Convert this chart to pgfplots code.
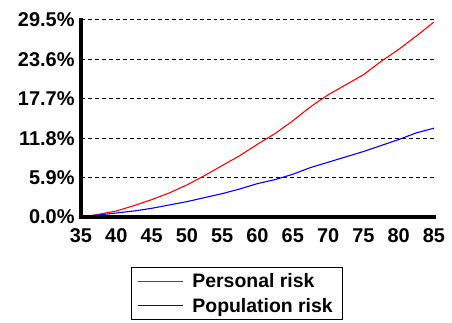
\documentclass[border=0pt]{standalone}
\usepackage{pgfplots}
\pgfplotsset{compat=1.18}
\usepackage{fontspec}
\setmainfont{Liberation Sans}
\begin{document}
\begin{tikzpicture}
\path[use as bounding box] (-81bp,-106bp) rectangle (371bp,217bp);
\begin{axis}[
  at={(0bp,0bp)}, anchor=origin,
  scale only axis, width=353bp, height=197bp,
  xmin=35, xmax=85, ymin=0, ymax=29.5,
  axis x line=bottom, axis y line=left,
  axis line style={draw=none},
  xtick={35,40,45,50,55,60,65,70,75,80,85},
  xticklabels={35,40,45,50,55,60,65,70,75,80,85},
  ytick={0,5.9,11.8,17.7,23.6,29.5},
  yticklabels={0.0\%,5.9\%,11.8\%,17.7\%,23.6\%,29.5\%},
  major tick length=0pt,
  ymajorgrids,
  grid style={black, line width=1pt, dash pattern=on 4pt off 3pt},
  tick label style={font=\bfseries\fontsize{20}{22}\selectfont, text=black},
  yticklabel style={xshift=-3bp},
  xticklabel style={yshift=-8bp},
  clip=false,
  legend style={at={(axis description cs:0.1416,-0.2538)}, anchor=north west,
    draw=black, line width=0.8pt, font=\bfseries\fontsize{19.5}{21}\selectfont,
    inner xsep=6bp, inner ysep=4bp, row sep=5bp,
    nodes={inner xsep=4bp}},
  legend cell align=left,
  legend image code/.code={\draw[#1, line width=1pt] (0bp,0bp) -- (45bp,0bp); \path (50bp,0bp);},
]
\addplot[red, line width=1.1pt] coordinates {
(35,0) (37.5,0.4) (40,0.9) (42.5,1.7) (45,2.6) (47.5,3.6) (50,4.8) (52.5,6.2)
(55,7.7) (57.5,9.2) (60,10.9) (62.5,12.5) (65,14.4) (67.5,16.5) (70,18.3)
(72.5,19.8) (75,21.3) (77.5,23.3) (80,25.1) (82.5,27.1) (85,29.2)};
\addlegendentry{Personal risk}
\addplot[blue, line width=1.1pt] coordinates {
(35,0) (37.5,0.3) (40,0.6) (42.5,0.9) (45,1.3) (47.5,1.8) (50,2.3) (52.5,2.9)
(55,3.5) (57.5,4.2) (60,5.0) (62.5,5.6) (65,6.4) (67.5,7.4) (70,8.2)
(72.5,9.0) (75,9.8) (77.5,10.7) (80,11.6) (82.5,12.6) (85,13.3)};
\addlegendentry{Population risk}
\draw[line width=4.5bp, black] (rel axis cs:0,1.01) -- (rel axis cs:0,0) -- (rel axis cs:1.006,0);
\end{axis}
\end{tikzpicture}
\end{document}
